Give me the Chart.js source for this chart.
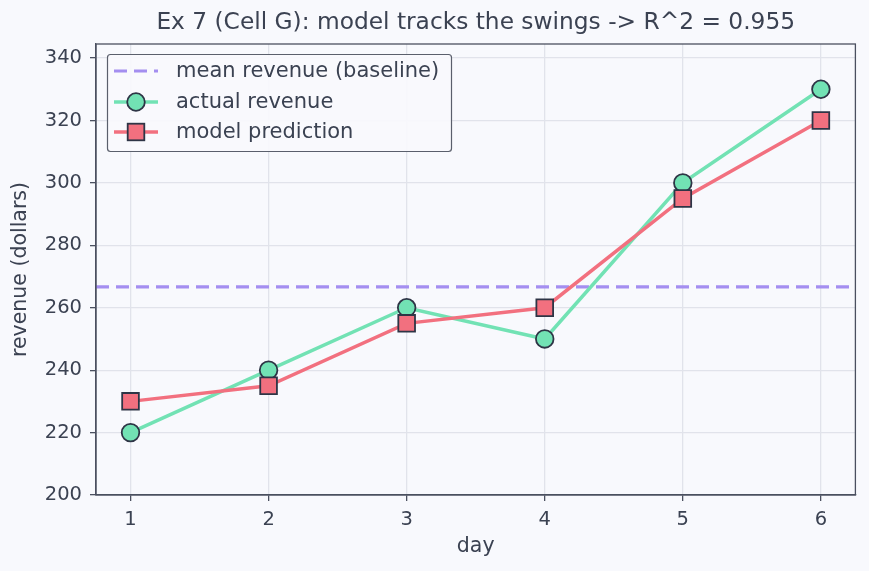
<!DOCTYPE html>
<html>
<head>
<meta charset="utf-8">
<script src="https://cdn.jsdelivr.net/npm/chart.js@4"></script>
<style>
  html, body { margin: 0; padding: 0; background: #f8f9fd; }
  #wrap { width: 869px; height: 571px; }
</style>
</head>
<body>
<div id="wrap"><canvas id="chart" width="869" height="571"></canvas></div>
<script>
// data
const days = [1, 2, 3, 4, 5, 6];
const actualRevenue = [220, 240, 260, 250, 300, 330];
const modelPrediction = [230, 235, 255, 260, 295, 320];
const yTicks = [200, 220, 240, 260, 280, 300, 320, 340];
const titleText = "Ex 7 (Cell G): model tracks the swings -> R^2 = 0.955";

const meanRevenue = actualRevenue.reduce((a, b) => a + b, 0) / actualRevenue.length;
const xMin = 0.75, xMax = 6.25;

const textColor = "#3b4252";
const axisColor = "#4b5060";
const gridColor = "#e1e3eb";
const green = "#72e2b4";
const red = "#f2707f";
const purple = "#a48ef0";
const edge = "#2e3546";

// title over the plot area, top/right frame and the legend inside the plot
const framePlugin = {
  id: "frame",
  afterDraw(chart) {
    const { ctx, chartArea: a } = chart;
    ctx.save();
    ctx.fillStyle = textColor;
    ctx.font = "23.3px 'DejaVu Sans'";
    ctx.textAlign = "center";
    ctx.textBaseline = "middle";
    ctx.fillText(titleText, (a.left + a.right) / 2, 23);
    ctx.textAlign = "left";

    ctx.strokeStyle = axisColor;
    ctx.lineWidth = 1.3;
    ctx.strokeRect(a.left, a.top, a.right - a.left, a.bottom - a.top);

    // legend box
    const bx = 107.5, by = 54.5, bw = 344, bh = 97;
    ctx.fillStyle = "rgba(248,249,253,0.92)";
    ctx.strokeStyle = "#5a5f6c";
    ctx.lineWidth = 1.2;
    ctx.beginPath();
    ctx.roundRect(bx, by, bw, bh, 3);
    ctx.fill();
    ctx.stroke();

    const rows = [71, 102, 132];
    const labels = ["mean revenue (baseline)", "actual revenue", "model prediction"];
    ctx.font = "21px 'DejaVu Sans'";
    ctx.fillStyle = textColor;
    labels.forEach((t, i) => ctx.fillText(t, 176, rows[i] + 1));

    // baseline sample
    ctx.strokeStyle = purple;
    ctx.lineWidth = 3.2;
    ctx.setLineDash([13, 7]);
    ctx.beginPath();
    ctx.moveTo(114, rows[0]);
    ctx.lineTo(158, rows[0]);
    ctx.stroke();
    ctx.setLineDash([]);

    // actual sample
    ctx.strokeStyle = green;
    ctx.lineWidth = 3.5;
    ctx.beginPath();
    ctx.moveTo(114, rows[1]);
    ctx.lineTo(158, rows[1]);
    ctx.stroke();
    ctx.fillStyle = green;
    ctx.strokeStyle = edge;
    ctx.lineWidth = 1.8;
    ctx.beginPath();
    ctx.arc(136, rows[1], 8.8, 0, Math.PI * 2);
    ctx.fill();
    ctx.stroke();

    // model sample
    ctx.strokeStyle = red;
    ctx.lineWidth = 3.5;
    ctx.beginPath();
    ctx.moveTo(114, rows[2]);
    ctx.lineTo(158, rows[2]);
    ctx.stroke();
    ctx.fillStyle = red;
    ctx.strokeStyle = edge;
    ctx.lineWidth = 1.8;
    ctx.fillRect(127.7, rows[2] - 8.3, 16.6, 16.6);
    ctx.strokeRect(127.7, rows[2] - 8.3, 16.6, 16.6);
    ctx.restore();
  }
};

const ctx = document.getElementById("chart").getContext("2d");
new Chart(ctx, {
  type: "line",
  data: {
    datasets: [
      {
        label: "mean revenue (baseline)",
        data: [{ x: xMin, y: meanRevenue }, { x: xMax, y: meanRevenue }],
        borderColor: purple,
        borderWidth: 3.2,
        borderDash: [13, 7],
        pointRadius: 0,
        order: 3,
      },
      {
        label: "actual revenue",
        data: days.map((d, i) => ({ x: d, y: actualRevenue[i] })),
        borderColor: green,
        backgroundColor: green,
        borderWidth: 3.5,
        pointStyle: "circle",
        pointRadius: 8.8,
        pointBackgroundColor: green,
        pointBorderColor: edge,
        pointBorderWidth: 1.8,
        order: 2,
      },
      {
        label: "model prediction",
        data: days.map((d, i) => ({ x: d, y: modelPrediction[i] })),
        borderColor: red,
        backgroundColor: red,
        borderWidth: 3.5,
        pointStyle: "rect",
        pointRadius: 11.8,
        pointBackgroundColor: red,
        pointBorderColor: edge,
        pointBorderWidth: 1.8,
        order: 1,
      },
    ],
  },
  options: {
    responsive: false,
    animation: false,
    layout: { padding: { left: 0, right: 13, top: 44, bottom: 0 } },
    plugins: {
      legend: { display: false },
      tooltip: { enabled: false },
      title: { display: false },
    },
    scales: {
      x: {
        type: "linear",
        min: xMin,
        max: xMax,
        afterFit: (s) => { s.height = 76; },
        ticks: {
          stepSize: 1,
          includeBounds: false,
          color: textColor,
          font: { family: "DejaVu Sans", size: 19.5 },
          padding: 7,
        },
        grid: { color: gridColor, lineWidth: 1.3, tickColor: axisColor, tickLength: 6 },
        border: { color: axisColor, width: 1.3 },
        title: {
          display: true,
          text: "day",
          color: textColor,
          font: { family: "DejaVu Sans", size: 20.5 },
          padding: { top: 0, bottom: 12 },
        },
      },
      y: {
        min: 200,
        max: 344.5,
        afterFit: (s) => { s.width = 96; },
        afterBuildTicks: (s) => { s.ticks = yTicks.map((v) => ({ value: v })); },
        ticks: {
          color: textColor,
          font: { family: "DejaVu Sans", size: 19.5 },
          padding: 8,
        },
        grid: { color: gridColor, lineWidth: 1.3, tickColor: axisColor, tickLength: 6 },
        border: { color: axisColor, width: 1.3 },
        title: {
          display: true,
          text: "revenue (dollars)",
          color: textColor,
          font: { family: "DejaVu Sans", size: 20.5 },
          padding: { top: 8, bottom: 2 },
        },
      },
    },
  },
  plugins: [framePlugin],
});
</script>
</body>
</html>
